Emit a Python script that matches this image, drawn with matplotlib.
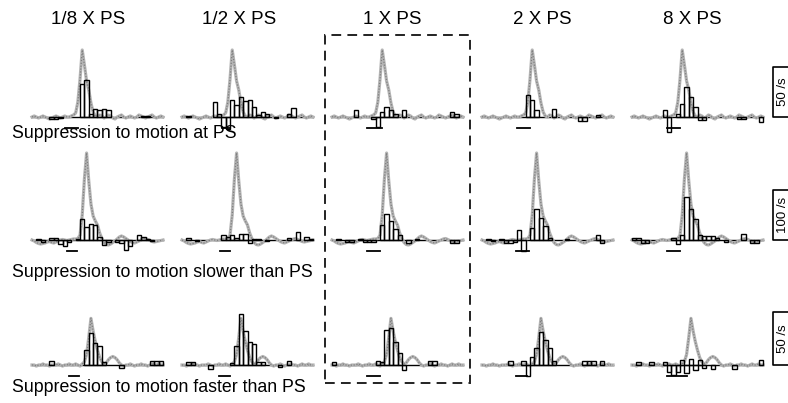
import numpy as np
import matplotlib.pyplot as plt
from matplotlib.patches import Rectangle

plt.rcParams['font.family'] = ['Liberation Sans', 'DejaVu Sans']

W, H = 788, 403

speeds = ['1/8 X PS', '1/2 X PS', '1 X PS', '2 X PS', '8 X PS']
row_labels = ['Suppression to motion at PS',
              'Suppression to motion slower than PS',
              'Suppression to motion faster than PS']
scale_values = [50, 100, 50]
scale_labels = ['50 /s', '100 /s', '50 /s']

# time axis: 30 bins, reference response sampled every half bin
bin_edges = np.arange(31)
t_ref = np.arange(61) * 0.5

# response to the preferred speed alone (spikes/s), one per row
ref_at_ps = [0, 1, 0, -1, 0, 1, 0, -1, -2, -1,
             0, 1, 0, -1, 0, 1, 0, 0, 1, 2,
             4, 15, 38, 67, 52, 36, 27, 14, 5, 1,
             0, 2, 1, -1, 0, 2, 1, -1, -2, 0,
             1, 2, 0, -1, 0, 1, 0, -1, 0, 2,
             1, 0, -1, 0, 1, 2, 0, -1, 0, 1,
             0]
ref_slower = [0, -2, -5, -7, -8, -7, -6, -4, -3, -5,
              -6, -4, -2, 0, 1, 0, -1, 0, 1, 2,
              2, 3, 10, 50, 122, 174, 118, 72, 48, 38,
              30, 14, 3, -5, -9, -10, -8, -5, -2, 2,
              6, 8, 6, 3, 0, -3, -5, -6, -4, -2,
              0, 2, 3, 1, -1, -3, -4, -3, -2, -1,
              0]
ref_faster = [0, 0, -1, 0, 0, 1, 0, 0, -1, 0,
              0, 0, 1, 0, -1, 0, 0, 1, 0, 0,
              1, 0, -1, 1, 3, 10, 26, 44, 32, 22,
              14, 7, 3, 1, 2, 5, 7, 8, 7, 5,
              2, 0, -1, 0, 0, 1, 0, -1, 0, 0,
              1, 0, 0, -1, 0, 1, 0, 0, 1, 0,
              0]

# difference histograms (spikes/s per bin), one list per speed
at_ps = [
    [0, 0, 0, 0, -2, -2, -1, 0, 0, 0, 0, 33, 37, 3, 8, 7, 8, 7, 0, 0, 0, 0, 0, 0, 0, 1, 1, 0, 0, 0],
    [0, 1, 0, 0, 0, 0, 0, 15, 3, -10, -12, 17, 12, 20, 16, 17, 10, 2, 5, 3, 0, -1, 0, 0, 3, 9, 0, 0, 0, 0],
    [0, 0, 0, 0, 0, 7, 0, 0, 0, -2, -10, 5, 10, 7, 3, 0, 7, 0, 0, 0, 0, 0, 0, 0, 0, 0, 0, 5, 3, 0],
    [0, 0, 0, 0, 0, 0, 0, 0, 0, 0, 22, 17, 7, 0, 0, 0, 8, 0, 0, 0, 0, 0, -4, -4, 0, 0, 2, 0, 0, 0],
    [0, 0, 0, 0, 0, 0, 0, 7, -15, 0, 3, 13, 30, 20, 10, -3, -3, 0, 0, 0, 0, 0, 0, 0, -2, -2, 0, 0, 0, -5],
]
slower = [
    [0, 2, -3, 0, 4, 4, -8, -12, -4, 0, 3, 43, 27, 33, 30, 6, -10, -3, 0, -3, -6, -20, -12, 0, 10, 6, 2, -2, 0, 0],
    [0, 4, 0, -2, 0, 0, 0, 0, 0, 10, 6, 10, 5, 13, 13, -5, 3, 2, 0, -2, 0, 0, 0, 0, 4, 0, 16, 0, 6, 2],
    [0, 3, 0, -3, -3, 0, 2, -4, -4, -3, 0, 30, 52, 38, 22, 10, 0, -5, 0, 2, 0, 0, 0, 0, 0, 0, 0, -6, -6, 0],
    [0, 2, -2, 0, 2, -5, -5, -4, 21, -22, 0, 25, 63, 45, 28, 5, 0, 0, 0, 2, 0, 0, 0, 0, 0, 0, 10, -5, 0, 0],
    [5, 5, -6, -6, 0, 0, 0, 0, 0, 5, -8, 10, 87, 62, 42, 10, 8, 8, 8, 5, 0, -3, 0, 0, 0, 13, 0, -5, -5, 0],
]
faster = [
    [0, 0, 0, 0, 4, 0, 0, 0, 0, 0, 0, 0, 14, 30, 21, 18, 3, 0, 0, 0, -3, 0, 0, 0, 0, 0, 0, 4, 4, 4],
    [0, 3, 3, 0, 0, 0, -4, 0, 0, 0, 0, 2, 18, 48, 32, 22, 20, 3, 3, 0, 0, 0, -2, 0, 4, 0, 0, 0, 0, 0],
    [3, 0, 0, 0, 0, 0, 0, 0, 0, 0, 4, 3, 33, 35, 22, 11, -5, 0, 0, 0, 0, 0, 4, 4, 0, 0, 0, 0, 0, 0],
    [0, 0, 0, 0, 0, 0, 4, 0, 0, 4, -10, 8, 16, 31, 24, 16, 4, 0, 0, 0, 0, 0, 0, 4, 4, 4, 0, 4, 0, 0],
    [0, 3, 0, 0, 3, 0, 0, 3, -7, -9, -7, 5, -8, 6, -5, 5, -3, 0, -4, 0, 0, 0, 0, -4, 0, 0, 0, 0, 0, 5],
]

# period of the suppressing motion (bins)
supp_at_ps = [(7.6, 10.5), (9.2, 11.1), (8.0, 11.5), (8.0, 11.1), (8.0, 11.1)]
supp_slower = [(8.0, 10.3), (8.8, 11.1), (8.0, 11.1), (7.9, 10.7), (8.0, 11.1)]
supp_faster = [(8.4, 10.8), (8.4, 11.0), (8.0, 11.0), (7.9, 10.3), (8.0, 12.6)]

rows = [(ref_at_ps, at_ps, supp_at_ps),
        (ref_slower, slower, supp_slower),
        (ref_faster, faster, supp_faster)]

# layout in pixels
col_left = [32, 182, 332, 482, 632]
panel_w = 131
baseline = [117, 240, 365]
px_per_unit = [1.0, 0.5, 1.06]
above = [72, 95, 58]
below = [22, 22, 22]
label_y = [138, 277, 392]

fig = plt.figure(figsize=(W / 100, H / 100), dpi=100)


def add_px_axes(x, base, w, r):
    ax = fig.add_axes([x / W, 1 - (base + below[r]) / H, w / W, (above[r] + below[r]) / H])
    ax.set_ylim(-below[r] / px_per_unit[r], above[r] / px_per_unit[r])
    ax.axis('off')
    return ax


for r, (ref, hists, supp) in enumerate(rows):
    for c in range(5):
        ax = add_px_axes(col_left[c], baseline[r], panel_w, r)
        ax.set_xlim(0, 30)
        vals = np.array(hists[c], dtype=float)
        nz = vals != 0
        # zero line of the histogram sits under the grey trace
        ax.plot([0, 30], [0, 0], color='black', lw=1.0, zorder=1, clip_on=False)
        ax.plot(t_ref, ref, color='#b4b4b4', lw=2.3, zorder=2, clip_on=False)
        ax.plot(t_ref, ref, color='#7f7f7f', lw=0.9, ls=(0, (1, 1.3)), zorder=3, clip_on=False)
        ax.bar(bin_edges[:-1][nz], vals[nz], width=1, align='edge', facecolor='none',
               edgecolor='black', linewidth=1.0, zorder=4, clip_on=False)
        y_supp = -11 / px_per_unit[r]
        ax.plot(supp[c], [y_supp, y_supp], color='black', lw=1.3, zorder=5, clip_on=False)

    # calibration bracket
    sax = add_px_axes(773, baseline[r], 15, r)
    sax.set_xlim(0, 1)
    v = scale_values[r]
    sax.plot([1, 0, 0, 1], [v, v, 0, 0], color='black', lw=1.2, clip_on=False)
    sax.text(0.68, v / 2, scale_labels[r], rotation=90, ha='center', va='center', fontsize=9.5)

    fig.text(12 / W, 1 - label_y[r] / H, row_labels[r], fontsize=12.8, va='baseline', ha='left')

title_x = [88, 239, 392, 542, 692]
for x, s in zip(title_x, speeds):
    fig.text(x / W, 1 - 20 / H, s, fontsize=13.5, ha='center', va='center')

box = Rectangle((325 / W, 1 - 383 / H), (470 - 325) / W, (383 - 35) / H,
                transform=fig.transFigure, fill=False, edgecolor='#222222',
                lw=1.4, ls=(0, (5, 3.2)))
fig.add_artist(box)

fig.savefig('out.png', dpi=100)
